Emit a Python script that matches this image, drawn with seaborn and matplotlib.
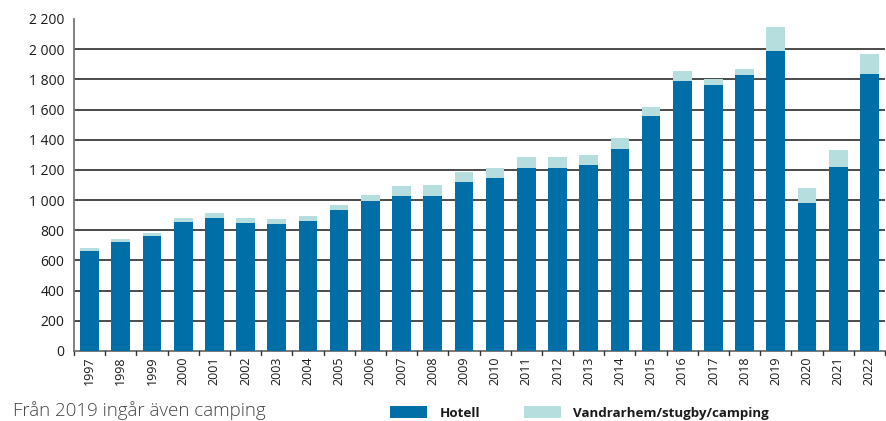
import matplotlib
matplotlib.use("Agg")
import matplotlib.pyplot as plt
from matplotlib.patches import Patch
import seaborn as sns
import pandas as pd

years = [str(y) for y in range(1997, 2023)]
hotell = [662, 722, 762, 854, 881, 848, 841, 861, 934, 994, 1027, 1027, 1119,
          1146, 1212, 1212, 1232, 1338, 1556, 1788, 1762, 1828, 1987, 980, 1219, 1834]
ovrigt = [20, 20, 19, 27, 33, 33, 33, 33, 33, 39, 66, 73, 66,
          66, 73, 73, 66, 73, 60, 66, 39, 40, 159, 100, 112, 133]
total = [h + o for h, o in zip(hotell, ovrigt)]

yticks = list(range(0, 2201, 200))
ytick_labels = ["0", "200", "400", "600", "800", "1 000", "1 200", "1 400",
                "1 600", "1 800", "2 000", "2 200"]

c_hotell = "#006fa7"
c_ovrigt = "#b6dedf"

sns.set_theme(style="white")
plt.rcParams["font.family"] = ["Open Sans", "DejaVu Sans"]

df = pd.DataFrame({"year": years, "hotell": hotell, "total": total})

fig = plt.figure(figsize=(8.86, 4.21), dpi=100)
ax = fig.add_axes([74 / 886, 1 - 351 / 421, 811 / 886, 332 / 421])

for y in yticks[1:-1]:
    ax.axhline(y, color="#1a1a1a", lw=1.1, zorder=0)

sns.barplot(data=df, x="year", y="total", color=c_ovrigt, width=0.6,
            saturation=1, linewidth=0, ax=ax, zorder=2)
sns.barplot(data=df, x="year", y="hotell", color=c_hotell, width=0.6,
            saturation=1, linewidth=0, ax=ax, zorder=3)

ax.set_xlim(-0.5, len(years) - 0.5)
ax.set_ylim(0, 2200)
ax.set_yticks(yticks)
ax.set_yticklabels(ytick_labels, fontsize=10, color="#1a1a1a")
ax.set_xlabel("")
ax.set_ylabel("")

ax.set_xticks(range(len(years)))
ax.set_xticklabels(years, rotation=90, fontsize=9, color="#1a1a1a")
ax.tick_params(axis="x", length=0, pad=4)
# boundary ticks between the year groups
for b in [i - 0.5 for i in range(len(years) + 1)]:
    ax.plot([b, b], [0, -28], color="#333333", lw=1, clip_on=False, zorder=4)

ax.tick_params(axis="y", direction="inout", length=8, width=1, color="#555555", pad=3)

for s in ["top", "right"]:
    ax.spines[s].set_visible(False)
ax.spines["left"].set_color("#777777")
ax.spines["left"].set_linewidth(1.3)
ax.spines["bottom"].set_color("#555555")
ax.spines["bottom"].set_linewidth(1.1)
ax.spines["left"].set_zorder(5)

fig.text(13 / 886, 1 - 411 / 421, "Från 2019 ingår även camping", fontsize=13.5,
         color="#444444", fontweight="light", va="center", ha="left")

handles = [Patch(facecolor=c_hotell, edgecolor="none", label="Hotell"),
           Patch(facecolor=c_ovrigt, edgecolor="none", label="Vandrarhem/stugby/camping")]
leg = fig.legend(handles=handles, loc="lower left", bbox_to_anchor=(390 / 886, 1 / 421),
                 ncol=2, frameon=False, handlelength=2.8, handleheight=1.0,
                 handletextpad=0.9, columnspacing=3.3, borderaxespad=0, borderpad=0,
                 prop={"size": 9.6, "weight": "bold"})
for t in leg.get_texts():
    t.set_color("#1a1a1a")

fig.savefig("out.png", dpi=100)
